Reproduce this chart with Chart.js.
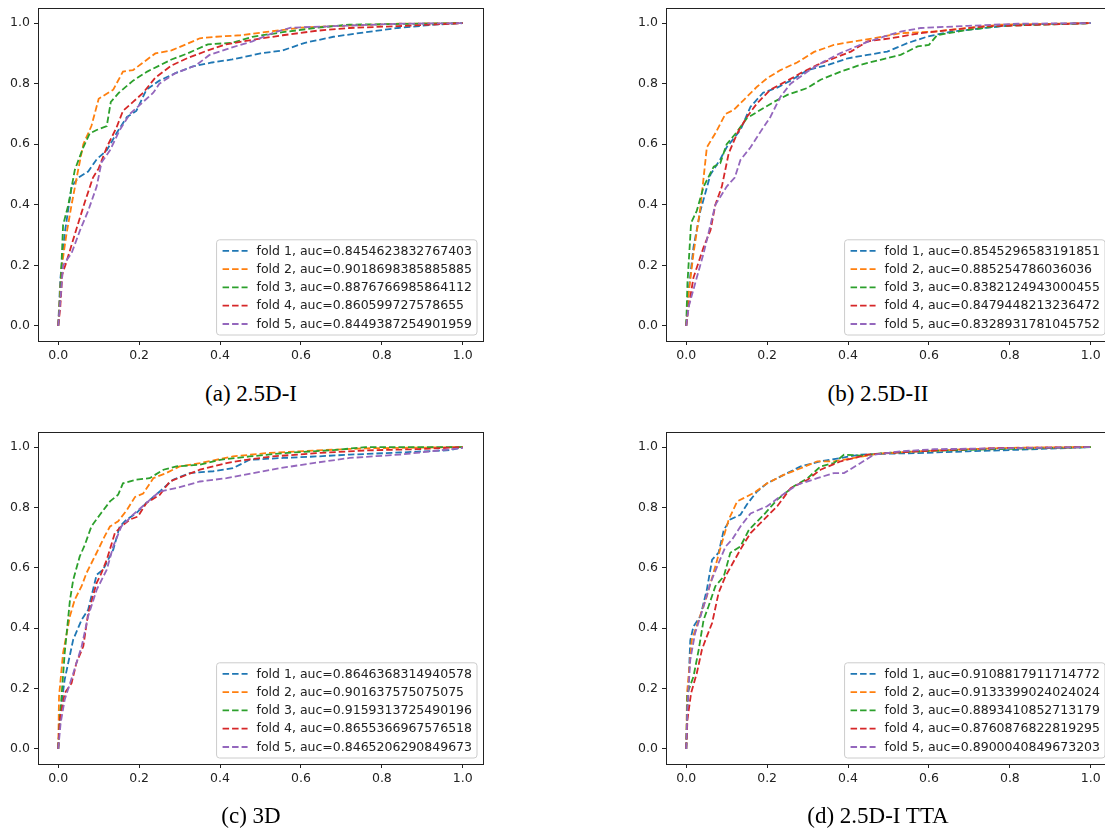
<!DOCTYPE html>
<html><head><meta charset="utf-8">
<script src="https://cdn.jsdelivr.net/npm/chart.js@4.4.0/dist/chart.umd.min.js"></script>
<style>
html,body{margin:0;padding:0;width:1105px;height:829px;overflow:hidden;background:#fff;}
#wrap{position:relative;width:1105px;height:829px;overflow:hidden;}
.panel{position:absolute;width:500px;height:380px;}
.cap{position:absolute;font-family:"Liberation Serif","Times New Roman",serif;font-size:23px;line-height:23px;color:#000;white-space:nowrap;transform:translateX(-50%);}
</style></head><body>
<div id="wrap">
<div class="panel" style="left:0px;top:0px"><canvas id="ca" width="500" height="380"></canvas></div>
<div class="panel" style="left:628px;top:0px"><canvas id="cb" width="500" height="380"></canvas></div>
<div class="panel" style="left:0px;top:424px"><canvas id="cc" width="500" height="380"></canvas></div>
<div class="panel" style="left:628px;top:424px"><canvas id="cd" width="500" height="380"></canvas></div>
<div class="cap" id="capa" style="left:251px;top:382px"></div>
<div class="cap" id="capb" style="left:878px;top:382px"></div>
<div class="cap" id="capc" style="left:251px;top:804px"></div>
<div class="cap" id="capd" style="left:878px;top:804px"></div>
</div>
<script>
// ---------- data ----------
const X_TICKS = [0, 0.2, 0.4, 0.6, 0.8, 1.0];
const Y_TICKS = [0, 0.2, 0.4, 0.6, 0.8, 1.0];
const FOLDS = ['fold 1', 'fold 2', 'fold 3', 'fold 4', 'fold 5'];
const CAPTIONS = ['(a) 2.5D-I', '(b) 2.5D-II', '(c) 3D', '(d) 2.5D-I TTA'];

// (a) 2.5D-I
const A_AUC = ['0.8454623832767403', '0.9018698385885885', '0.8876766985864112', '0.860599727578655', '0.8449387254901959'];
const A1 = [[0,0],[0.005,0.15],[0.016,0.305],[0.033,0.46],[0.05,0.49],[0.074,0.51],[0.095,0.55],[0.12,0.58],[0.144,0.636],[0.17,0.69],[0.193,0.71],[0.218,0.78],[0.25,0.81],[0.29,0.835],[0.333,0.857],[0.38,0.87],[0.43,0.88],[0.5,0.9],[0.555,0.91],[0.61,0.935],[0.68,0.955],[0.76,0.97],[0.84,0.984],[0.93,0.995],[1,1]];
const A2 = [[0,0],[0.008,0.19],[0.02,0.3],[0.033,0.4],[0.05,0.52],[0.062,0.6],[0.082,0.66],[0.1,0.75],[0.136,0.78],[0.16,0.84],[0.185,0.845],[0.21,0.87],[0.24,0.9],[0.28,0.91],[0.316,0.93],[0.35,0.95],[0.39,0.955],[0.45,0.96],[0.51,0.97],[0.6,0.985],[0.68,0.99],[0.84,0.998],[1,1]];
const A3 = [[0,0],[0.005,0.1],[0.012,0.333],[0.025,0.4],[0.041,0.515],[0.062,0.59],[0.078,0.636],[0.095,0.647],[0.12,0.66],[0.13,0.74],[0.15,0.77],[0.185,0.81],[0.22,0.84],[0.25,0.86],[0.28,0.88],[0.32,0.9],[0.37,0.93],[0.43,0.935],[0.48,0.955],[0.555,0.97],[0.64,0.985],[0.72,0.995],[1,1]];
const A4 = [[0,0],[0.005,0.06],[0.01,0.17],[0.02,0.21],[0.045,0.32],[0.066,0.41],[0.086,0.49],[0.1,0.52],[0.12,0.59],[0.144,0.655],[0.16,0.71],[0.185,0.74],[0.21,0.77],[0.24,0.82],[0.28,0.86],[0.32,0.885],[0.37,0.91],[0.415,0.93],[0.48,0.945],[0.555,0.96],[0.64,0.975],[0.72,0.984],[0.84,0.99],[1,1]];
const A5 = [[0,0],[0.005,0.08],[0.012,0.2],[0.033,0.24],[0.054,0.316],[0.074,0.38],[0.095,0.46],[0.107,0.54],[0.128,0.58],[0.152,0.647],[0.177,0.7],[0.21,0.74],[0.235,0.77],[0.25,0.8],[0.29,0.835],[0.34,0.86],[0.374,0.895],[0.43,0.92],[0.48,0.94],[0.535,0.97],[0.575,0.985],[0.68,0.99],[0.84,0.998],[1,1]];

// (b) 2.5D-II
const B_AUC = ['0.8545296583191851', '0.885254786036036', '0.8382124943000455', '0.8479448213236472', '0.8328931781045752'];
const B1 = [[0,0],[0.006,0.118],[0.018,0.26],[0.035,0.38],[0.06,0.5],[0.084,0.55],[0.1,0.59],[0.134,0.647],[0.159,0.724],[0.19,0.77],[0.225,0.787],[0.258,0.81],[0.3,0.845],[0.35,0.862],[0.4,0.884],[0.448,0.895],[0.497,0.906],[0.547,0.934],[0.597,0.956],[0.655,0.972],[0.737,0.984],[0.82,0.995],[1,1]];
const B2 = [[0,0],[0.006,0.107],[0.018,0.24],[0.035,0.39],[0.051,0.59],[0.072,0.636],[0.097,0.7],[0.117,0.713],[0.142,0.746],[0.175,0.79],[0.2,0.818],[0.233,0.845],[0.274,0.87],[0.316,0.905],[0.365,0.928],[0.415,0.94],[0.464,0.95],[0.53,0.967],[0.613,0.972],[0.696,0.984],[0.78,0.995],[1,1]];
const B3 = [[0,0],[0.003,0.14],[0.012,0.34],[0.026,0.38],[0.043,0.46],[0.068,0.526],[0.084,0.537],[0.1,0.6],[0.125,0.64],[0.15,0.686],[0.183,0.713],[0.217,0.74],[0.25,0.763],[0.3,0.786],[0.332,0.813],[0.382,0.84],[0.43,0.862],[0.48,0.879],[0.53,0.895],[0.572,0.923],[0.6,0.928],[0.62,0.96],[0.696,0.978],[0.78,0.991],[1,1]];
const B4 = [[0,0],[0.006,0.063],[0.018,0.16],[0.043,0.26],[0.06,0.316],[0.072,0.4],[0.088,0.46],[0.105,0.57],[0.126,0.636],[0.15,0.69],[0.175,0.735],[0.208,0.78],[0.25,0.81],[0.283,0.835],[0.324,0.862],[0.365,0.884],[0.407,0.906],[0.448,0.94],[0.506,0.95],[0.58,0.967],[0.655,0.978],[0.737,0.989],[1,1]];
const B5 = [[0,0],[0.006,0.063],[0.022,0.14],[0.043,0.24],[0.072,0.4],[0.1,0.46],[0.12,0.49],[0.134,0.548],[0.159,0.59],[0.183,0.64],[0.208,0.69],[0.233,0.757],[0.258,0.8],[0.3,0.84],[0.34,0.873],[0.38,0.9],[0.44,0.934],[0.49,0.956],[0.53,0.972],[0.58,0.984],[0.696,0.991],[0.82,0.998],[1,1]];

// (c) 3D
const C_AUC = ['0.8646368314940578', '0.901637575075075', '0.9159313725490196', '0.8655366967576518', '0.8465206290849673'];
const C1 = [[0,0],[0.004,0.108],[0.016,0.23],[0.037,0.362],[0.058,0.428],[0.074,0.461],[0.095,0.577],[0.111,0.594],[0.136,0.66],[0.152,0.737],[0.169,0.76],[0.193,0.781],[0.218,0.815],[0.251,0.853],[0.284,0.892],[0.325,0.914],[0.383,0.92],[0.432,0.93],[0.473,0.958],[0.556,0.964],[0.638,0.969],[0.72,0.975],[0.844,0.982],[0.97,0.99],[1,1]];
const C2 = [[0,0],[0.002,0.174],[0.012,0.318],[0.029,0.44],[0.041,0.495],[0.058,0.54],[0.07,0.583],[0.095,0.65],[0.115,0.705],[0.128,0.737],[0.148,0.754],[0.169,0.79],[0.19,0.835],[0.21,0.846],[0.235,0.897],[0.267,0.914],[0.3,0.936],[0.35,0.947],[0.432,0.969],[0.514,0.98],[0.638,0.989],[0.761,0.996],[1,1]];
const C3 = [[0,0],[0.004,0.097],[0.016,0.318],[0.029,0.493],[0.037,0.56],[0.053,0.637],[0.066,0.677],[0.082,0.737],[0.103,0.776],[0.128,0.82],[0.148,0.842],[0.16,0.88],[0.193,0.892],[0.226,0.897],[0.26,0.925],[0.292,0.936],[0.35,0.942],[0.4,0.958],[0.473,0.969],[0.556,0.98],[0.68,0.99],[0.76,1],[1,1]];
const C4 = [[0,0],[0.004,0.097],[0.016,0.185],[0.033,0.218],[0.045,0.285],[0.062,0.34],[0.074,0.45],[0.095,0.55],[0.107,0.583],[0.12,0.627],[0.14,0.715],[0.156,0.737],[0.177,0.76],[0.197,0.77],[0.218,0.815],[0.251,0.842],[0.276,0.886],[0.317,0.908],[0.35,0.925],[0.416,0.947],[0.465,0.958],[0.53,0.969],[0.638,0.98],[0.761,0.989],[0.885,0.993],[1,1]];
const C5 = [[0,0],[0.006,0.086],[0.016,0.163],[0.037,0.25],[0.058,0.34],[0.074,0.44],[0.095,0.527],[0.12,0.594],[0.136,0.671],[0.156,0.737],[0.185,0.776],[0.218,0.815],[0.251,0.853],[0.292,0.864],[0.35,0.886],[0.416,0.897],[0.482,0.914],[0.547,0.93],[0.63,0.947],[0.72,0.964],[0.844,0.975],[1,0.997]];

// (d) 2.5D-I TTA
const D_AUC = ['0.9108817911714772', '0.9133399024024024', '0.8893410852713179', '0.8760876822819295', '0.8900040849673203'];
const D1 = [[0,0],[0.003,0.12],[0.01,0.36],[0.018,0.406],[0.035,0.44],[0.051,0.528],[0.064,0.627],[0.08,0.65],[0.093,0.726],[0.109,0.76],[0.134,0.776],[0.15,0.81],[0.175,0.853],[0.2,0.88],[0.241,0.908],[0.283,0.936],[0.332,0.953],[0.382,0.964],[0.431,0.975],[0.489,0.978],[0.572,0.98],[0.696,0.986],[0.82,0.991],[1,1]];
const D2 = [[0,0],[0.002,0.185],[0.014,0.362],[0.031,0.428],[0.051,0.506],[0.072,0.605],[0.088,0.682],[0.105,0.76],[0.126,0.82],[0.142,0.831],[0.167,0.848],[0.2,0.88],[0.241,0.908],[0.283,0.93],[0.324,0.953],[0.365,0.953],[0.415,0.964],[0.473,0.978],[0.572,0.986],[0.696,0.993],[0.82,0.998],[1,1]];
const D3 = [[0,0],[0.003,0.185],[0.018,0.24],[0.031,0.33],[0.043,0.428],[0.055,0.472],[0.072,0.539],[0.093,0.572],[0.109,0.65],[0.134,0.671],[0.155,0.726],[0.192,0.776],[0.225,0.826],[0.266,0.87],[0.3,0.897],[0.332,0.936],[0.365,0.947],[0.39,0.975],[0.431,0.972],[0.489,0.98],[0.572,0.986],[0.696,0.991],[1,1]];
const D4 = [[0,0],[0.003,0.097],[0.012,0.185],[0.026,0.25],[0.039,0.33],[0.051,0.373],[0.064,0.417],[0.08,0.517],[0.097,0.572],[0.117,0.62],[0.138,0.67],[0.159,0.715],[0.192,0.76],[0.225,0.804],[0.258,0.864],[0.3,0.892],[0.332,0.925],[0.382,0.953],[0.415,0.964],[0.448,0.975],[0.53,0.983],[0.655,0.991],[0.78,0.997],[1,1]];
const D5 = [[0,0],[0.003,0.14],[0.01,0.296],[0.022,0.384],[0.043,0.472],[0.06,0.55],[0.08,0.616],[0.097,0.67],[0.113,0.693],[0.134,0.737],[0.159,0.78],[0.2,0.804],[0.233,0.837],[0.274,0.875],[0.324,0.897],[0.365,0.914],[0.39,0.914],[0.431,0.947],[0.464,0.975],[0.53,0.986],[0.613,0.993],[1,1]];

// ---------- style ----------
const COLORS = ['#1f77b4', '#ff7f0e', '#2ca02c', '#d62728', '#9467bd'];
const FONT = '"DejaVu Sans", sans-serif';
const FSIZE = 12.5;
const TXT = '#222';
const DASH = [6.5, 3];
const LW = 1.8;

const framePlugin = {
  id: 'frame',
  afterDraw(chart) {
    const {ctx, chartArea: a} = chart;
    ctx.save();
    ctx.strokeStyle = '#222';
    ctx.lineWidth = 1;
    ctx.strokeRect(Math.round(a.left) + 0.5, Math.round(a.top) + 0.5, Math.round(a.right - a.left), Math.round(a.bottom - a.top));
    ctx.restore();
  }
};

function roundRect(ctx, x, y, w, h, r) {
  ctx.beginPath();
  ctx.moveTo(x + r, y);
  ctx.lineTo(x + w - r, y);
  ctx.arcTo(x + w, y, x + w, y + r, r);
  ctx.lineTo(x + w, y + h - r);
  ctx.arcTo(x + w, y + h, x + w - r, y + h, r);
  ctx.lineTo(x + r, y + h);
  ctx.arcTo(x, y + h, x, y + h - r, r);
  ctx.lineTo(x, y + r);
  ctx.arcTo(x, y, x + r, y, r);
  ctx.closePath();
}

const legendPlugin = {
  id: 'mplLegend',
  afterDraw(chart, args, opts) {
    const {ctx, chartArea: a} = chart;
    const labels = opts.labels || [];
    ctx.save();
    ctx.font = FSIZE + 'px ' + FONT;
    let maxW = 0;
    labels.forEach(l => { maxW = Math.max(maxW, ctx.measureText(l).width); });
    const rowH = 18.3;
    const boxW = 40 + maxW + 5;
    const boxH = 11 * 2 + rowH * (labels.length - 1);
    const bx = a.right - 6 - boxW;
    const by = a.bottom - 6 - boxH;
    roundRect(ctx, bx, by, boxW, boxH, 3);
    ctx.fillStyle = 'rgba(255,255,255,0.8)';
    ctx.fill();
    ctx.strokeStyle = '#cccccc';
    ctx.lineWidth = 1;
    ctx.stroke();
    labels.forEach((l, i) => {
      const y = by + 11 + i * rowH;
      ctx.beginPath();
      ctx.setLineDash(DASH);
      ctx.strokeStyle = COLORS[i];
      ctx.lineWidth = LW;
      ctx.moveTo(bx + 6, y);
      ctx.lineTo(bx + 31, y);
      ctx.stroke();
      ctx.setLineDash([]);
      ctx.fillStyle = TXT;
      ctx.textBaseline = 'middle';
      ctx.textAlign = 'left';
      ctx.fillText(l, bx + 40, y + 0.5);
    });
    ctx.restore();
  }
};

function makeChart(id, series, aucs, xAxisH) {
  const datasets = series.map((pts, i) => ({
    label: FOLDS[i] + ', auc=' + aucs[i],
    data: pts.map(p => ({x: p[0], y: p[1]})),
    showLine: true,
    borderColor: COLORS[i],
    backgroundColor: COLORS[i],
    borderWidth: LW,
    borderDash: DASH,
    pointRadius: 0,
    tension: 0,
    fill: false,
    order: series.length - i
  }));
  const tickCfg = () => ({
    color: TXT,
    font: {family: FONT, size: FSIZE},
    padding: 3,
    autoSkip: false,
    maxRotation: 0,
    callback: (v) => Number(v).toFixed(1)
  });
  const gridCfg = {display: true, drawOnChartArea: false, drawTicks: true, tickLength: 4, color: '#222', lineWidth: 1};
  new Chart(document.getElementById(id), {
    type: 'scatter',
    data: {datasets},
    options: {
      responsive: false,
      animation: false,
      layout: {padding: {top: 8, right: 17, left: 0, bottom: 0}},
      plugins: {
        legend: {display: false},
        tooltip: {enabled: false},
        mplLegend: {labels: datasets.map(d => d.label)}
      },
      scales: {
        x: {
          type: 'linear', min: -0.05, max: 1.05,
          border: {display: false},
          grid: gridCfg,
          ticks: tickCfg(),
          afterBuildTicks: (s) => { s.ticks = X_TICKS.map(v => ({value: v})); },
          afterFit: (s) => { s.height = xAxisH; s.paddingLeft = 0; s.paddingRight = 0; s.paddingTop = 0; s.paddingBottom = 0; }
        },
        y: {
          type: 'linear', min: -0.05, max: 1.05,
          border: {display: false},
          grid: gridCfg,
          ticks: Object.assign(tickCfg(), {padding: 4}),
          afterBuildTicks: (s) => { s.ticks = Y_TICKS.map(v => ({value: v})); },
          afterFit: (s) => { s.width = 38; s.paddingLeft = 0; s.paddingRight = 0; s.paddingTop = 0; s.paddingBottom = 0; }
        }
      }
    },
    plugins: [framePlugin, legendPlugin]
  });
}

makeChart('ca', [A1, A2, A3, A4, A5], A_AUC, 39);
makeChart('cb', [B1, B2, B3, B4, B5], B_AUC, 39);
makeChart('cc', [C1, C2, C3, C4, C5], C_AUC, 40);
makeChart('cd', [D1, D2, D3, D4, D5], D_AUC, 40);

['capa', 'capb', 'capc', 'capd'].forEach((id, i) => { document.getElementById(id).textContent = CAPTIONS[i]; });
</script>
</body></html>
